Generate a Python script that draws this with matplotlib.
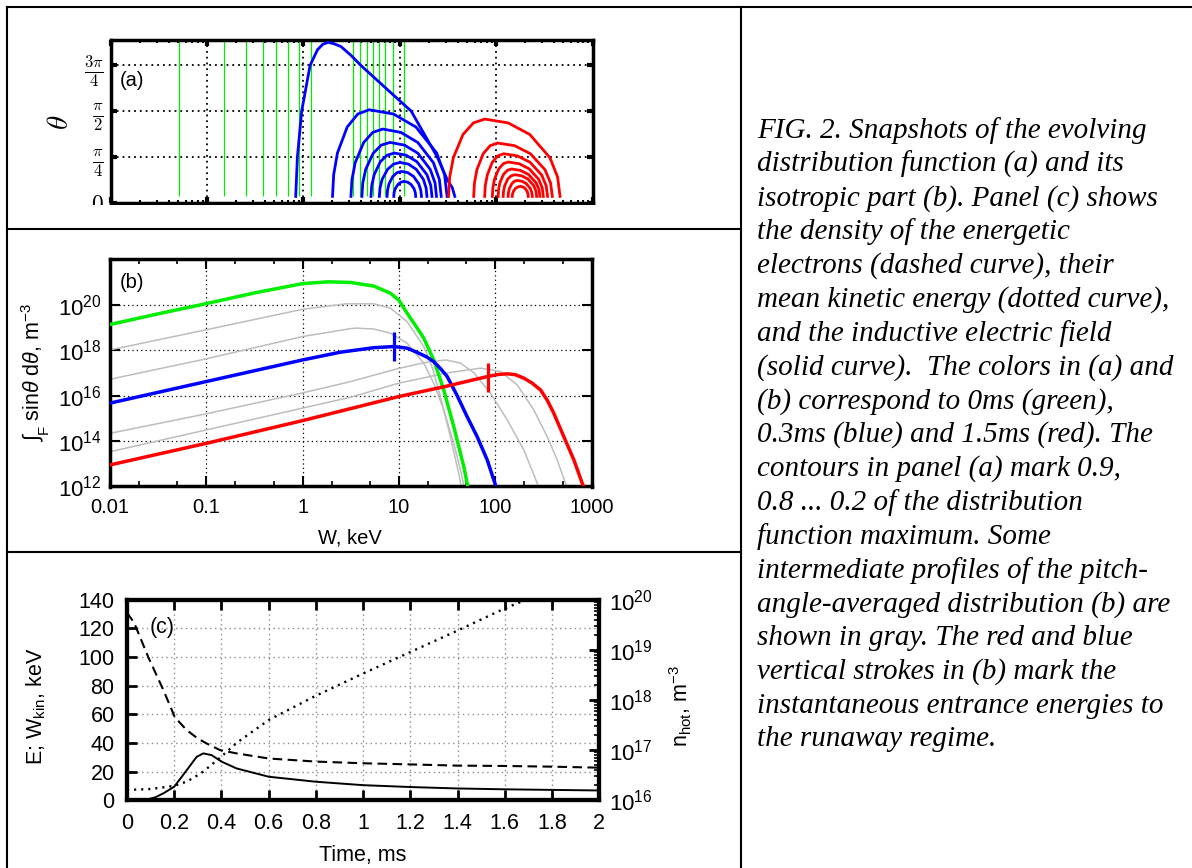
import numpy as np
import matplotlib
matplotlib.use("Agg")
import matplotlib.pyplot as plt
from matplotlib.lines import Line2D
from matplotlib.patches import Rectangle
from matplotlib.ticker import FixedLocator, FixedFormatter, LogLocator, NullFormatter

plt.rcParams['font.family'] = ['Liberation Sans', 'DejaVu Sans']
plt.rcParams['mathtext.fontset'] = 'custom'
plt.rcParams['mathtext.rm'] = 'Liberation Sans'
plt.rcParams['mathtext.it'] = 'Liberation Sans:italic'
plt.rcParams['mathtext.bf'] = 'Liberation Sans:bold'

# ---------------- data: panel (a) ----------------
W_limits = [0.01, 1000]
theta_max = 2.80
theta_ticks = [0, np.pi / 4, np.pi / 2, 3 * np.pi / 4]
theta_ticklabels = [r'$0$', r'$\frac{\pi}{4}$', r'$\frac{\pi}{2}$', r'$\frac{3\pi}{4}$']

# 0 ms (green): isotropic -> contours are vertical lines, W in keV
green_contour_W = [0.0507, 0.149, 0.255, 0.377, 0.514, 0.685, 0.908, 1.19,
                   3.24, 3.86, 4.56, 5.27, 6.13, 7.08, 8.45, 11.0]
green_theta_span = [0.108, 2.80]

# 0.3 ms (blue) contours: log10(W/keV) and theta (rad)
blue_contours_logW = [
    [-0.080, -0.0625, -0.018, 0.069, 0.146, 0.201, 0.258, 0.316, 0.389, 0.493, 0.597, 0.857, 1.118, 1.389, 1.493, 1.545, 1.571],
    [0.302, 0.314, 0.353, 0.454, 0.564, 0.683, 0.935, 1.168, 1.383, 1.465, 1.491],
    [0.493, 0.504, 0.537, 0.625, 0.720, 0.823, 1.012, 1.187, 1.349, 1.411, 1.430],
    [0.607, 0.616, 0.646, 0.724, 0.808, 0.899, 1.049, 1.188, 1.316, 1.366, 1.381],
    [0.701, 0.709, 0.734, 0.798, 0.868, 0.944, 1.066, 1.178, 1.282, 1.322, 1.334],
    [0.788, 0.795, 0.817, 0.874, 0.936, 1.003, 1.090, 1.170, 1.245, 1.273, 1.282],
    [0.868, 0.873, 0.888, 0.928, 0.972, 1.019, 1.083, 1.143, 1.197, 1.218, 1.225],
    [0.938, 0.941, 0.952, 0.981, 1.011, 1.045, 1.082, 1.117, 1.149, 1.161, 1.165],
]
blue_contours_theta = [
    [0.108, 0.784, 1.572, 2.354, 2.624, 2.718, 2.752, 2.727, 2.680, 2.529, 2.354, 1.963, 1.572, 0.784, 0.394, 0.257, 0.108],
    [0.108, 0.480, 0.852, 1.298, 1.521, 1.595, 1.521, 1.298, 0.852, 0.480, 0.108],
    [0.108, 0.397, 0.686, 1.033, 1.206, 1.264, 1.206, 1.033, 0.686, 0.397, 0.108],
    [0.108, 0.340, 0.571, 0.849, 0.988, 1.034, 0.988, 0.849, 0.571, 0.340, 0.108],
    [0.108, 0.294, 0.480, 0.703, 0.815, 0.852, 0.815, 0.703, 0.480, 0.294, 0.108],
    [0.108, 0.254, 0.400, 0.574, 0.662, 0.691, 0.662, 0.574, 0.400, 0.254, 0.108],
    [0.108, 0.215, 0.323, 0.451, 0.516, 0.537, 0.516, 0.451, 0.323, 0.215, 0.108],
    [0.108, 0.172, 0.237, 0.314, 0.352, 0.365, 0.352, 0.314, 0.237, 0.172, 0.108],
]

# 1.5 ms (red) contours
red_contours_logW = [
    [1.506, 1.518, 1.556, 1.656, 1.764, 1.881, 2.125, 2.350, 2.558, 2.638, 2.663],
    [1.767, 1.775, 1.800, 1.866, 1.937, 2.014, 2.192, 2.355, 2.507, 2.565, 2.583],
    [1.881, 1.887, 1.908, 1.960, 2.017, 2.079, 2.221, 2.352, 2.473, 2.519, 2.534],
    [1.961, 1.966, 1.983, 2.027, 2.074, 2.125, 2.239, 2.344, 2.441, 2.478, 2.490],
    [2.021, 2.025, 2.039, 2.076, 2.116, 2.159, 2.251, 2.336, 2.414, 2.445, 2.454],
    [2.073, 2.077, 2.089, 2.121, 2.156, 2.194, 2.265, 2.330, 2.390, 2.413, 2.420],
    [2.125, 2.128, 2.138, 2.163, 2.190, 2.219, 2.268, 2.313, 2.354, 2.370, 2.375],
    [2.167, 2.170, 2.179, 2.201, 2.226, 2.253, 2.278, 2.301, 2.322, 2.330, 2.333],
]
red_contours_theta = [
    [0.108, 0.440, 0.772, 1.170, 1.369, 1.435, 1.369, 1.170, 0.772, 0.440, 0.108],
    [0.108, 0.337, 0.566, 0.841, 0.978, 1.024, 0.978, 0.841, 0.566, 0.337, 0.108],
    [0.108, 0.291, 0.474, 0.694, 0.803, 0.840, 0.803, 0.694, 0.474, 0.291, 0.108],
    [0.108, 0.256, 0.403, 0.580, 0.669, 0.698, 0.669, 0.580, 0.403, 0.256, 0.108],
    [0.108, 0.226, 0.343, 0.484, 0.555, 0.578, 0.555, 0.484, 0.343, 0.226, 0.108],
    [0.108, 0.201, 0.294, 0.406, 0.461, 0.480, 0.461, 0.406, 0.294, 0.201, 0.108],
    [0.108, 0.177, 0.245, 0.327, 0.368, 0.382, 0.368, 0.327, 0.245, 0.177, 0.108],
    [0.108, 0.151, 0.194, 0.246, 0.271, 0.280, 0.271, 0.246, 0.194, 0.151, 0.108],
]

# ---------------- data: panel (b) ----------------  (log10 W[keV], log10 F)
green_logW = [-2.0, -1.5, -1.0, -0.5, 0.0, 0.27, 0.5, 0.74, 0.91, 1.0, 1.085, 1.17, 1.258, 1.362, 1.466, 1.57, 1.674, 1.72]
green_logF = [19.13, 19.6, 20.05, 20.52, 20.93, 21.01, 20.98, 20.82, 20.51, 20.2, 19.63, 19.1, 18.53, 17.57, 16.25, 14.63, 12.87, 11.9]
blue_logW = [-2.0, -1.0, 0.0, 0.39, 0.74, 0.95, 1.085, 1.19, 1.29, 1.36, 1.43, 1.5, 1.605, 1.709, 1.813, 1.917, 2.0, 2.015]
blue_logF = [15.67, 16.62, 17.57, 17.91, 18.11, 18.16, 18.09, 17.9, 17.7, 17.5, 17.2, 16.85, 16.0, 15.07, 14.19, 13.17, 12.1, 11.9]
red_logW = [-2.0, -1.0, 0.0, 1.0, 1.5, 1.93, 2.03, 2.125, 2.21, 2.297, 2.38, 2.471, 2.54, 2.609, 2.713, 2.817, 2.904, 2.925]
red_logF = [12.95, 13.9, 14.9, 15.96, 16.42, 16.85, 16.93, 16.96, 16.92, 16.77, 16.56, 16.25, 15.8, 15.22, 14.19, 13.17, 12.14, 11.9]
gray_logW = [
    [-2.0, -1.0, 0.0, 0.45, 0.74, 0.912, 1.085, 1.258, 1.35, 1.431, 1.535, 1.63, 1.65],
    [-2.0, -1.0, 0.0, 0.5, 0.565, 0.74, 0.912, 1.085, 1.258, 1.362, 1.466, 1.57, 1.656, 1.68],
    [-2.0, -1.0, 0.0, 0.5, 1.0, 1.3, 1.49, 1.64, 1.78, 1.951, 2.125, 2.297, 2.437, 2.46],
    [-2.0, -1.0, 0.0, 0.5, 1.0, 1.5, 1.85, 2.055, 2.229, 2.401, 2.541, 2.644, 2.73, 2.75],
]
gray_logF = [
    [18.01, 18.9, 19.8, 20.04, 20.04, 19.85, 19.26, 18.16, 17.2, 15.96, 14.19, 12.4, 11.9],
    [16.72, 17.62, 18.6, 18.95, 18.97, 18.93, 18.75, 18.31, 17.43, 16.55, 15.37, 13.9, 12.43, 11.9],
    [14.34, 15.2, 16.12, 16.62, 17.2, 17.48, 17.57, 17.43, 17.0, 16.11, 14.93, 13.61, 12.14, 11.9],
    [13.53, 14.49, 15.45, 15.93, 16.55, 17.0, 17.21, 17.06, 16.47, 15.37, 14.19, 13.17, 12.14, 11.9],
]
blue_entry_W = 8.8
blue_entry_F = [3.2e17, 6.6e18]
red_entry_W = 85.0
red_entry_F = [1.5e16, 2.7e17]
W_ticks = [0.01, 0.1, 1, 10, 100, 1000]
W_ticklabels = ['0.01', '0.1', '1', '10', '100', '1000']
F_ticks = [1e12, 1e14, 1e16, 1e18, 1e20]
F_limits = [1e12, 1e22]

# ---------------- data: panel (c) ----------------
t_solid = [0, 0.08, 0.12, 0.154, 0.2, 0.253, 0.295, 0.323, 0.358, 0.401, 0.464, 0.6, 0.8, 1.0, 1.2, 1.4, 1.6, 1.8, 2.0]
E_field = [0, 0.3, 2, 4.8, 9.4, 21, 30.3, 32.7, 31.5, 26.9, 22.2, 16.4, 12.9, 10.5, 9.2, 8.2, 7.6, 7.2, 6.8]
t_dotted = [0, 0.1, 0.2, 0.253, 0.3, 0.323, 0.4, 0.464, 0.6, 0.8, 1.0, 1.2, 1.4, 1.6, 1.72]
W_kin = [7.2, 7.8, 10, 13, 17.5, 20, 30.5, 40, 56, 73, 88.5, 103.5, 118.5, 134, 142]
t_dashed = [0, 0.03, 0.09, 0.154, 0.203, 0.253, 0.30, 0.337, 0.394, 0.464, 0.6, 0.8, 1.0, 1.2, 1.4, 1.6, 1.8, 2.0]
n_hot = [5.5e19, 3.5e19, 7.2e18, 1.58e18, 4.5e17, 2.5e17, 1.7e17, 1.36e17, 1.0e17, 8.6e16, 6.8e16, 5.9e16,
         5.46e16, 5.18e16, 4.9e16, 4.82e16, 4.67e16, 4.46e16]
t_ticks = [0, 0.2, 0.4, 0.6, 0.8, 1, 1.2, 1.4, 1.6, 1.8, 2]
t_ticklabels = ['0', '0.2', '0.4', '0.6', '0.8', '1', '1.2', '1.4', '1.6', '1.8', '2']
E_ticks = [0, 20, 40, 60, 80, 100, 120, 140]
n_limits = [1e16, 1e20]

caption_lines = [
    "FIG. 2. Snapshots of the evolving",
    "distribution function (a) and its",
    "isotropic part (b). Panel (c) shows",
    "the density of the energetic",
    "electrons (dashed curve), their",
    "mean kinetic energy (dotted curve),",
    "and the inductive electric field",
    "(solid curve).  The colors in (a) and",
    "(b) correspond to 0ms (green),",
    "0.3ms (blue) and 1.5ms (red). The",
    "contours in panel (a) mark 0.9,",
    "0.8 ... 0.2 of the distribution",
    "function maximum. Some",
    "intermediate profiles of the pitch-",
    "angle-averaged distribution (b) are",
    "shown in gray. The red and blue",
    "vertical strokes in (b) mark the",
    "instantaneous entrance energies to",
    "the runaway regime.",
]

# ---------------- figure ----------------
FW, FH = 1192, 868
fig = plt.figure(figsize=(FW / 100, FH / 100), dpi=100)


def box(x0, y0, x1, y1):
    return [x0 / FW, 1 - y1 / FH, (x1 - x0) / FW, (y1 - y0) / FH]


def fx(x):
    return x / FW


def fy(y):
    return 1 - y / FH


GREEN, BLUE, RED, GRAY = '#00ee00', '#0000ff', '#ff0000', '#bdbdbd'
FSB = 14.5   # panel (b) text
FSC = 15.5   # panel (c) text

# ---- panel (a)
axA = fig.add_axes(box(110.7, 39.5, 592.5, 202.7))
axA.set_xscale('log')
axA.set_xlim(W_limits)
axA.set_ylim(0, theta_max)
axA.vlines(green_contour_W, green_theta_span[0], green_theta_span[1], colors=GREEN, lw=0.9, zorder=2)
for lw_, th in zip(blue_contours_logW, blue_contours_theta):
    axA.plot(np.power(10.0, lw_), th, color=BLUE, lw=2.0, solid_joinstyle='round', zorder=3)
for lw_, th in zip(red_contours_logW, red_contours_theta):
    axA.plot(np.power(10.0, lw_), th, color=RED, lw=2.0, solid_joinstyle='round', zorder=3)
axA.set_yticks(theta_ticks)
axA.set_yticklabels(theta_ticklabels)
for t in axA.get_yticklabels():
    t.set_math_fontfamily('cm')
    t.set_fontsize(17)
axA.xaxis.set_major_locator(LogLocator(base=10, numticks=10))
axA.xaxis.set_minor_locator(LogLocator(base=10, subs=np.arange(2, 10), numticks=20))
axA.xaxis.set_major_formatter(NullFormatter())
axA.xaxis.set_minor_formatter(NullFormatter())
axA.grid(True, which='major', color='k', ls=(0, (1, 2.2)), lw=1.3)
axA.tick_params(which='major', direction='in', length=4, width=3, top=True, right=True, pad=5)
axA.tick_params(which='minor', direction='in', length=2.5, width=1.5, top=True, right=True)
for s in axA.spines.values():
    s.set_linewidth(2.5)
fig.text(fx(60), fy(122), r'$\theta$', rotation=90, ha='center', va='center', fontsize=21, math_fontfamily='cm')
fig.text(fx(132), fy(81), '(a)', ha='center', va='center', fontsize=FSB)

# ---- panel (b)
axB = fig.add_axes(box(110, 259.3, 591.5, 486.5))
axB.set_xscale('log')
axB.set_yscale('log')
for gx, gy in zip(gray_logW, gray_logF):
    axB.plot(np.power(10.0, gx), np.power(10.0, gy), color=GRAY, lw=1.1, zorder=2)
axB.plot(np.power(10.0, green_logW), np.power(10.0, green_logF), color=GREEN, lw=2.5, zorder=3)
axB.plot(np.power(10.0, blue_logW), np.power(10.0, blue_logF), color=BLUE, lw=2.5, zorder=4)
axB.plot(np.power(10.0, red_logW), np.power(10.0, red_logF), color=RED, lw=2.5, zorder=4)
axB.vlines([blue_entry_W], blue_entry_F[0], blue_entry_F[1], colors=BLUE, lw=2.3, zorder=5)
axB.vlines([red_entry_W], red_entry_F[0], red_entry_F[1], colors=RED, lw=2.3, zorder=5)
axB.set_xlim(W_limits)
axB.set_ylim(F_limits)
axB.xaxis.set_major_locator(FixedLocator(W_ticks))
axB.xaxis.set_major_formatter(FixedFormatter(W_ticklabels))
axB.xaxis.set_minor_locator(LogLocator(base=10, subs=[2, 5], numticks=20))
axB.xaxis.set_minor_formatter(NullFormatter())
axB.yaxis.set_major_locator(FixedLocator(F_ticks))
axB.yaxis.set_minor_locator(FixedLocator([]))
axB.grid(True, which='major', color='k', ls=(0, (1, 2.5)), lw=0.9)
axB.tick_params(which='major', direction='in', length=7, width=1.5, top=True, right=True,
                labelsize=FSB, pad=8)
axB.tick_params(axis='y', which='major', labelsize=16, pad=6)
axB.tick_params(which='minor', direction='in', length=3.5, width=1.2, top=True, right=True)
for s in axB.spines.values():
    s.set_linewidth(2.5)
fig.text(fx(132), fy(282), '(b)', ha='center', va='center', fontsize=FSB)
fig.text(fx(36), fy(372), r'$\int_{\mathrm{F}}$ sin$\theta$ d$\theta$, m$^{-3}$', rotation=90,
         ha='center', va='center', fontsize=FSB + 1)
fig.text(fx(350), fy(538), 'W, keV', ha='center', va='center', fontsize=FSB)

# ---- panel (c)
axC = fig.add_axes(box(127, 599.8, 599.2, 800.2))
axC.plot(t_solid, E_field, color='k', lw=1.4, zorder=3)
axC.plot(t_dotted, W_kin, color='k', lw=1.7, ls=(0, (0.9, 2.1)), zorder=3)
axC.set_xlim(0, 2)
axC.set_ylim(0, 140)
axC.set_xticks(t_ticks)
axC.set_xticklabels(t_ticklabels)
axC.set_yticks(E_ticks)
axC.grid(True, color='#8c8c8c', ls=(0, (1, 2.5)), lw=1.0)
axC.tick_params(direction='in', length=7, width=2, top=True, right=False, labelsize=FSC, pad=9)
axC2 = axC.twinx()
axC2.set_yscale('log')
axC2.plot(t_dashed, n_hot, color='k', lw=1.5, ls=(0, (4.6, 2.6)), zorder=3)
axC2.set_ylim(n_limits)
axC2.yaxis.set_major_locator(LogLocator(base=10, numticks=10))
axC2.yaxis.set_minor_locator(LogLocator(base=10, subs=np.arange(2, 10), numticks=20))
axC2.tick_params(which='major', direction='in', length=7, width=2, labelsize=FSC + 0.5, pad=7)
axC2.tick_params(which='minor', direction='in', length=3.5, width=1.2)
for s in list(axC.spines.values()) + list(axC2.spines.values()):
    s.set_linewidth(3)
fig.text(fx(162), fy(627), '(c)', ha='center', va='center', fontsize=FSC)
fig.text(fx(36), fy(706), r'E; W$_{\mathrm{kin}}$, keV', rotation=90, ha='center', va='center', fontsize=FSC)
fig.text(fx(681), fy(706), r'n$_{\mathrm{hot}}$, m$^{-3}$', rotation=90, ha='center', va='center', fontsize=FSC)
fig.text(fx(363), fy(855), 'Time, ms', ha='center', va='center', fontsize=FSC)

# ---- crop of panel (a) image just below its frame
fig.add_artist(Rectangle((fx(9), fy(227.5)), fx(730), (227.5 - 205) / FH, transform=fig.transFigure,
                         facecolor='white', edgecolor='none', zorder=20))

# ---- table frame
LWF = 1.5
fig.add_artist(Line2D([fx(7), 1], [fy(6.5), fy(6.5)], color='k', lw=LWF, transform=fig.transFigure, zorder=30))
fig.add_artist(Line2D([fx(7.5), fx(7.5)], [fy(6.5), 0], color='k', lw=LWF, transform=fig.transFigure, zorder=30))
fig.add_artist(Line2D([fx(741), fx(741)], [fy(6.5), 0], color='k', lw=LWF, transform=fig.transFigure, zorder=30))
fig.add_artist(Line2D([fx(7.5), fx(741)], [fy(229.3), fy(229.3)], color='k', lw=LWF, transform=fig.transFigure, zorder=30))
fig.add_artist(Line2D([fx(7.5), fx(741)], [fy(551.5), fy(551.5)], color='k', lw=LWF, transform=fig.transFigure, zorder=30))

# ---- caption
for i, line in enumerate(caption_lines):
    fig.text(fx(757), fy(127.3 + i * 33.84), line, ha='left', va='center_baseline',
             fontfamily='Liberation Serif', style='italic', fontsize=21)

fig.savefig('out.png', dpi=100)
